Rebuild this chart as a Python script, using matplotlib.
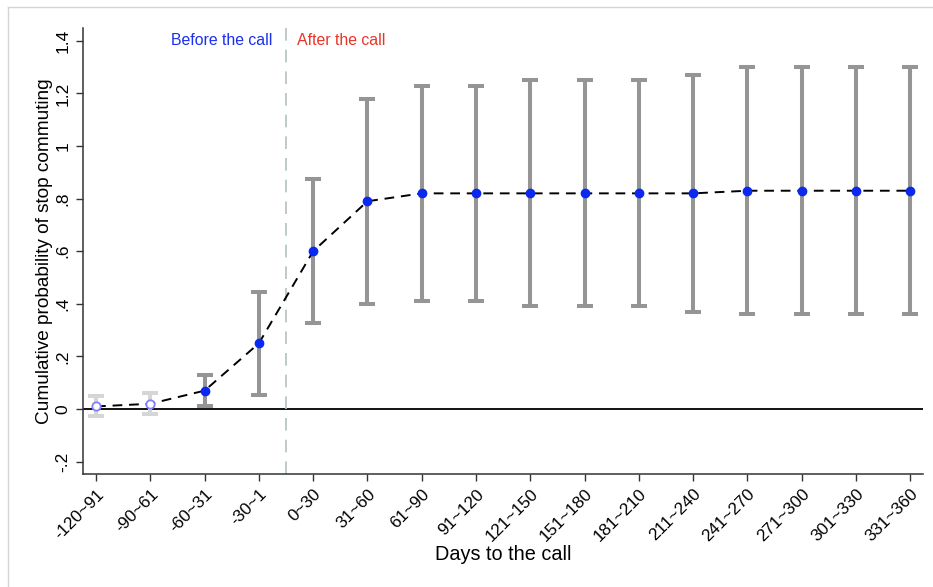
import matplotlib.pyplot as plt
from matplotlib.lines import Line2D
import numpy as np

plt.rcParams['font.family'] = ['Liberation Sans', 'DejaVu Sans']

# days-to-call bins and estimated cumulative probability with 95% CI
bins = ['-120~91', '-90~61', '-60~31', '-30~1', '0~30', '31~60', '61~90',
        '91~120', '121~150', '151~180', '181~210', '211~240', '241~270',
        '271~300', '301~330', '331~360']
coef = [0.01, 0.02, 0.07, 0.25, 0.60, 0.79, 0.82, 0.82, 0.82, 0.82, 0.82,
        0.82, 0.83, 0.83, 0.83, 0.83]
ci_lo = [-0.025, -0.02, 0.01, 0.053, 0.326, 0.398, 0.41, 0.41, 0.39, 0.39,
         0.39, 0.37, 0.36, 0.36, 0.36, 0.36]
ci_hi = [0.05, 0.06, 0.13, 0.446, 0.874, 1.18, 1.23, 1.23, 1.25, 1.25,
         1.25, 1.27, 1.30, 1.30, 1.30, 1.30]
yticks = [-0.2, 0, 0.2, 0.4, 0.6, 0.8, 1, 1.2, 1.4]
ytick_labels = ['-.2', '0', '.2', '.4', '.6', '.8', '1', '1.2', '1.4']

x = np.arange(len(bins))
coef = np.array(coef)
lo = np.array(ci_lo)
hi = np.array(ci_hi)
n_ref = 2  # first two bins drawn faded

fig = plt.figure(figsize=(9.33, 5.87), dpi=100)
ax = fig.add_axes([0.089, 0.1925, 0.9, 0.7595])

# outer frame lines
fig.add_artist(Line2D([8/933, 1], [1 - 7/587, 1 - 7/587], color='#d4d4d4', lw=1))
fig.add_artist(Line2D([8/933, 8/933], [0, 1 - 7/587], color='#d4d4d4', lw=1))

ax.axhline(0, color='black', lw=1.3, zorder=1)
ax.axvline(3.5, color='#b9c6c3', lw=1.3, dashes=(7, 5), zorder=1)

ax.errorbar(x[:n_ref], coef[:n_ref], yerr=[coef[:n_ref] - lo[:n_ref], hi[:n_ref] - coef[:n_ref]],
            fmt='none', ecolor='#d6d6d6', elinewidth=2.9, capsize=5.5, capthick=2.9, zorder=2)
ax.errorbar(x[n_ref:], coef[n_ref:], yerr=[coef[n_ref:] - lo[n_ref:], hi[n_ref:] - coef[n_ref:]],
            fmt='none', ecolor='#959595', elinewidth=2.9, capsize=5.5, capthick=2.9, zorder=2)

ax.plot(x, coef, color='black', lw=1.4, dashes=(5, 3.5), zorder=3)
ax.plot(x[:n_ref], coef[:n_ref], 'o', ms=6, mfc='white', mec='#8080ff', mew=1.3, zorder=4)
ax.plot(x[n_ref:], coef[n_ref:], 'o', ms=6, color='#0a28f0', zorder=4)

ax.text(3.25, 1.4, 'Before the call', color='#1a2ff0', fontsize=11.4, ha='right', va='center')
ax.text(3.7, 1.4, 'After the call', color='#e8352a', fontsize=11.4, ha='left', va='center')

ax.set_xlim(-0.24, 15.23)
ax.set_ylim(-0.247, 1.448)
ax.set_xticks(x)
ax.set_xticklabels(bins, rotation=45, ha='right', rotation_mode='anchor', fontsize=12.3)
ax.set_yticks(yticks)
ax.set_yticklabels(ytick_labels, rotation=90, va='center', fontsize=12.5)
ax.tick_params(length=5, width=1, color='#333333', pad=4)

ax.set_xlabel('Days to the call', fontsize=14.3, labelpad=0)
ax.set_ylabel('Cumulative probability of stop commuting', fontsize=13.7, labelpad=2)

for s in ['top', 'right']:
    ax.spines[s].set_visible(False)
for s in ['left', 'bottom']:
    ax.spines[s].set_color('#333333')
    ax.spines[s].set_linewidth(1.1)

fig.savefig('out.png', dpi=100)
